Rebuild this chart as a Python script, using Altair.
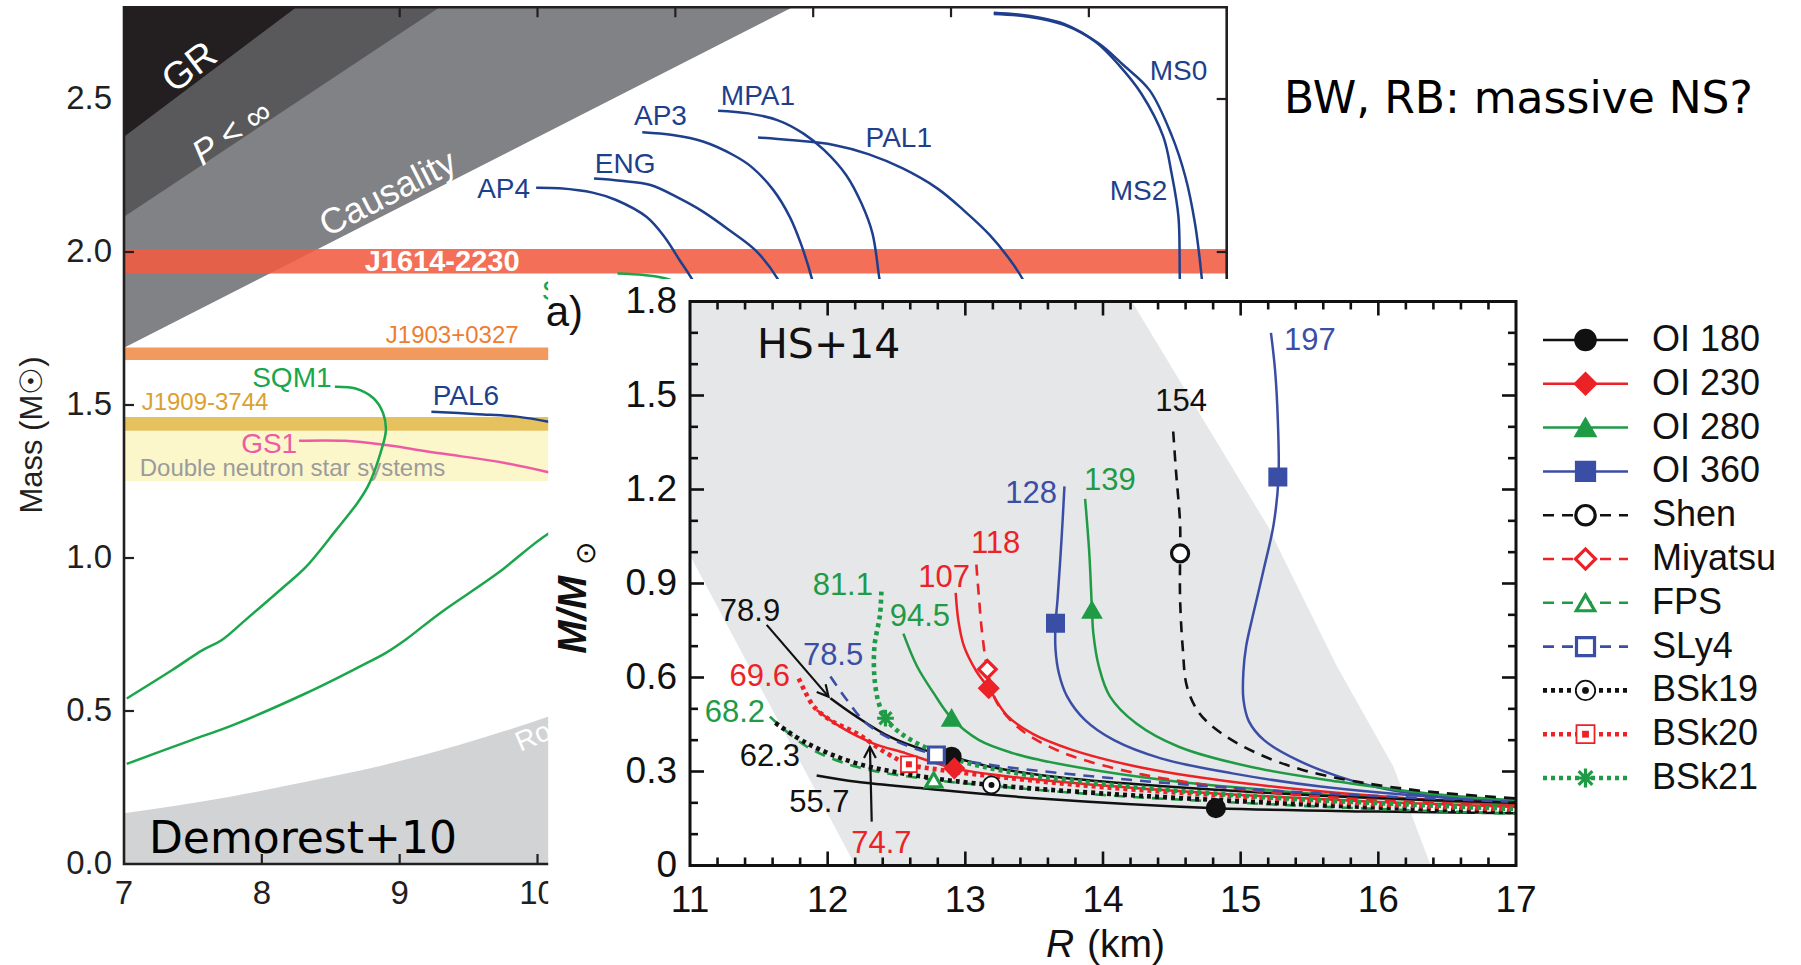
import altair as alt
import pandas as pd

FONT = "Liberation Sans"
HAND = "DejaVu Sans"

# ---------------------------------------------------------------------------
# Left figure (Demorest+10): EOS mass-radius curves and pulsar mass bands
# radius in km, mass in solar masses
# ---------------------------------------------------------------------------
AP4_R = [9.99, 10.16, 10.40, 10.57, 10.79, 10.92, 11.03, 11.12, 11.30]
AP4_M = [2.210, 2.208, 2.194, 2.170, 2.115, 2.050, 1.974, 1.912, 1.750]
ENG_R = [10.41, 10.60, 10.82, 11.03, 11.20, 11.39, 11.58, 11.74, 11.90]
ENG_M = [2.240, 2.233, 2.219, 2.175, 2.132, 2.072, 2.006, 1.914, 1.750]
AP3_R = [10.76, 10.98, 11.20, 11.42, 11.55, 11.71, 11.83, 11.91, 11.99, 12.05]
AP3_M = [2.391, 2.382, 2.361, 2.317, 2.279, 2.203, 2.115, 2.028, 1.914, 1.800]
MPA1_R = [11.31, 11.53, 11.74, 11.93, 12.08, 12.24, 12.35, 12.43, 12.48, 12.52]
MPA1_M = [2.462, 2.453, 2.431, 2.387, 2.333, 2.251, 2.159, 2.061, 1.914, 1.800]
PAL1_R = [11.60, 11.83, 12.15, 12.40, 12.65, 12.90, 13.09, 13.28, 13.41, 13.52, 13.62]
PAL1_M = [2.374, 2.366, 2.350, 2.320, 2.273, 2.208, 2.137, 2.056, 1.985, 1.911, 1.800]
MS0_R = [13.31, 13.56, 13.82, 14.07, 14.25, 14.44, 14.60, 14.70, 14.77, 14.82, 14.84]
MS0_M = [2.778, 2.769, 2.742, 2.682, 2.611, 2.529, 2.382, 2.246, 2.093, 1.911, 1.800]
MS2_R = [13.31, 13.56, 13.82, 14.05, 14.22, 14.38, 14.54, 14.60, 14.65, 14.66, 14.67]
MS2_M = [2.782, 2.772, 2.745, 2.686, 2.610, 2.518, 2.377, 2.257, 2.115, 1.911, 1.800]
PAL6_R = [9.23, 9.57, 9.85, 10.08, 10.50]
PAL6_M = [1.478, 1.470, 1.462, 1.445, 1.400]
GS1_R = [8.27, 8.60, 8.90, 9.29, 9.71, 10.08, 10.50]
GS1_M = [1.383, 1.383, 1.369, 1.342, 1.315, 1.280, 1.230]
SQM1_R = [8.53, 8.68, 8.81, 8.88, 8.90, 8.86, 8.78, 8.70, 8.54, 8.32, 8.16, 7.88, 7.71, 7.57, 7.35, 7.02]
SQM1_M = [1.560, 1.554, 1.522, 1.473, 1.418, 1.342, 1.244, 1.184, 1.092, 0.971, 0.906, 0.797, 0.732, 0.699, 0.634, 0.541]
SQM3_R = [10.58, 10.77, 10.95, 11.10, 11.20, 11.15, 10.90, 10.50, 10.08, 9.71, 9.29, 9.04, 8.90, 8.71, 8.32, 7.79, 7.49, 7.02]
SQM3_M = [1.930, 1.925, 1.911, 1.870, 1.700, 1.500, 1.300, 1.180, 1.080, 0.950, 0.819, 0.732, 0.690, 0.645, 0.558, 0.454, 0.405, 0.327]

# excluded regions (lower boundary of each wedge, up to the top of the frame)
GR_R = [7.0, 8.25]
GR_M = [2.377, 2.8]
PINF_R = [7.0, 9.29]
PINF_M = [2.115, 2.8]
CAUS_R = [7.0, 11.85]
CAUS_M = [1.687, 2.8]
ROT_R = [7.0, 7.77, 8.32, 8.88, 9.43, 10.09, 10.60]
ROT_M = [0.166, 0.220, 0.269, 0.323, 0.389, 0.484, 0.570]

# measured masses
PSR_NAMES = ["Double neutron star systems", "J1909-3744", "J1903+0327", "J1614-2230"]
PSR_LO = [1.252, 1.416, 1.647, 1.930]
PSR_HI = [1.416, 1.461, 1.688, 2.010]

A_XTICKS = [7, 8, 9, 10, 11, 12, 13, 14, 15]
A_XLABELS = [7, 8, 9, 10]
A_YTICKS = [0.0, 0.5, 1.0, 1.5, 2.0, 2.5]

# ---------------------------------------------------------------------------
# Right figure (HS+14): M-R curves, labelled by the slope parameter L
# ---------------------------------------------------------------------------
L197_R = [15.22, 15.25, 15.27, 15.275, 15.24, 15.17, 15.09, 15.04, 15.02, 15.02, 15.06, 15.17, 15.41, 15.72, 16.10, 16.62, 17.0]
L197_M = [1.70, 1.58, 1.42, 1.24, 1.09, 0.95, 0.80, 0.70, 0.62, 0.53, 0.46, 0.40, 0.337, 0.283, 0.240, 0.213, 0.203]
L128_R = [13.72, 13.70, 13.67, 13.655, 13.655, 13.68, 13.74, 13.87, 14.08, 14.42, 14.94, 15.58, 16.36, 17.0]
L128_M = [1.21, 1.05, 0.85, 0.77, 0.69, 0.613, 0.539, 0.464, 0.40, 0.342, 0.294, 0.252, 0.220, 0.204]
L139_R = [13.87, 13.90, 13.92, 13.93, 13.97, 14.05, 14.24, 14.55, 15.07, 15.72, 16.36, 17.0]
L139_M = [1.17, 1.00, 0.815, 0.74, 0.635, 0.54, 0.454, 0.379, 0.315, 0.267, 0.230, 0.208]
L154_R = [14.51, 14.53, 14.56, 14.56, 14.56, 14.58, 14.61, 14.70, 14.86, 15.12, 15.45, 15.85, 16.36, 17.0]
L154_M = [1.385, 1.26, 1.09, 0.996, 0.85, 0.69, 0.571, 0.486, 0.422, 0.358, 0.305, 0.267, 0.236, 0.214]
L118_R = [13.08, 13.10, 13.12, 13.16, 13.22, 13.35, 13.50, 13.77, 14.29, 15.07, 15.85, 17.0]
L118_M = [0.96, 0.85, 0.75, 0.626, 0.528, 0.454, 0.405, 0.350, 0.290, 0.240, 0.212, 0.190]
L107_R = [12.93, 12.95, 12.99, 13.08, 13.17, 13.30, 13.49, 13.77, 14.20, 14.80, 15.50, 16.20, 17.0]
L107_M = [0.87, 0.78, 0.70, 0.62, 0.566, 0.48, 0.42, 0.37, 0.32, 0.275, 0.240, 0.215, 0.197]
L945_R = [12.55, 12.65, 12.77, 12.90, 13.10, 13.35, 13.54, 14.0, 14.5, 15.0, 15.5, 16.0, 17.0]
L945_M = [0.74, 0.635, 0.55, 0.47, 0.40, 0.358, 0.337, 0.300, 0.270, 0.248, 0.230, 0.216, 0.193]
L811_R = [12.39, 12.38, 12.34, 12.34, 12.37, 12.42, 12.53, 12.70, 12.94, 13.30, 13.80, 14.50, 15.30, 16.20, 17.0]
L811_M = [0.874, 0.80, 0.70, 0.60, 0.52, 0.47, 0.422, 0.379, 0.337, 0.300, 0.270, 0.240, 0.215, 0.195, 0.180]
L789_R = [12.02, 12.21, 12.45, 12.70, 12.90, 13.18, 13.54, 14.0, 15.0, 16.0, 17.0]
L789_M = [0.534, 0.475, 0.411, 0.369, 0.347, 0.315, 0.289, 0.268, 0.237, 0.215, 0.200]
L785_R = [12.02, 12.14, 12.28, 12.48, 12.79, 13.20, 13.80, 14.50, 15.50, 17.0]
L785_M = [0.603, 0.528, 0.454, 0.400, 0.353, 0.320, 0.290, 0.262, 0.232, 0.203]
L696_R = [11.79, 11.83, 11.90, 12.02, 12.21, 12.43, 12.59, 12.82, 13.30, 14.0, 15.0, 16.0, 17.0]
L696_M = [0.597, 0.56, 0.507, 0.464, 0.422, 0.358, 0.323, 0.305, 0.280, 0.250, 0.220, 0.195, 0.178]
L747_R = [11.92, 12.09, 12.33, 12.57, 12.92, 13.30, 14.0, 15.0, 16.0, 17.0]
L747_M = [0.496, 0.443, 0.390, 0.358, 0.310, 0.285, 0.255, 0.225, 0.203, 0.187]
L682_R = [11.58, 11.85, 12.21, 12.77, 13.30, 14.0, 15.0, 16.0, 17.0]
L682_M = [0.475, 0.379, 0.315, 0.273, 0.250, 0.225, 0.200, 0.180, 0.165]
L623_R = [11.62, 11.85, 12.21, 12.70, 13.19, 14.0, 15.0, 16.0, 17.0]
L623_M = [0.455, 0.390, 0.326, 0.283, 0.257, 0.230, 0.205, 0.185, 0.170]
L557_R = [11.92, 12.21, 12.70, 13.54, 14.82, 16.0, 17.0]
L557_M = [0.287, 0.267, 0.246, 0.214, 0.183, 0.172, 0.167]

# shaded band of the right figure: left / right edge at each mass
BAND_M = [0.0, 0.315, 0.635, 0.99, 1.081, 1.443, 1.8]
BAND_LEFT = [12.20, 11.82, 11.43, 11.0, 11.0, 11.0, 11.0]
BAND_RIGHT = [16.38, 16.11, 15.70, 15.30, 15.20, 14.70, 14.21]

# one marker per curve
MARK_MODEL = ["OI 180", "OI 180", "OI 230", "OI 230", "OI 280", "OI 280", "OI 360", "OI 360",
              "Shen", "Miyatsu", "FPS", "SLy4", "BSk19", "BSk20", "BSk21"]
MARK_R = [12.90, 14.82, 13.17, 12.92, 13.92, 12.90, 15.27, 13.655, 14.56, 13.16, 12.77, 12.79, 13.19, 12.59, 12.42]
MARK_M = [0.347, 0.183, 0.566, 0.310, 0.815, 0.470, 1.240, 0.773, 0.996, 0.626, 0.273, 0.353, 0.257, 0.323, 0.470]

MODELS = ["OI 180", "OI 230", "OI 280", "OI 360", "Shen", "Miyatsu", "FPS", "SLy4", "BSk19", "BSk20", "BSk21"]

B_XTICKS = [11, 12, 13, 14, 15, 16, 17]
B_YTICKS = [0.0, 0.3, 0.6, 0.9, 1.2, 1.5, 1.8]

# ---------------------------------------------------------------------------
# styling
# ---------------------------------------------------------------------------
NAVY, SQM, PINK = "#1e3f8c", "#1aa64b", "#ee5ba2"
BLACK, RED, GREEN, BLUE = "#111111", "#ec2227", "#1f9a45", "#3b4ea6"
FRAME = "#231f20"
PSR_COLORS = ["#fcf5c4", "#e2ba48", "#f08b48", "#f15b40"]

ASTERISK = "M-1,0L1,0M0,-1L0,1M-0.72,-0.72L0.72,0.72M-0.72,0.72L0.72,-0.72"
ARROWHEAD = "M-0.5,0.95L0,0L0.5,0.95"

MODEL_COLOR = {"OI 180": BLACK, "OI 230": RED, "OI 280": GREEN, "OI 360": BLUE,
               "Shen": BLACK, "Miyatsu": RED, "FPS": GREEN, "SLy4": BLUE,
               "BSk19": BLACK, "BSk20": RED, "BSk21": GREEN}
MODEL_KIND = {"OI 180": "solid", "OI 230": "solid", "OI 280": "solid", "OI 360": "solid",
              "Shen": "dashed", "Miyatsu": "dashed", "FPS": "dashed", "SLy4": "dashed",
              "BSk19": "dotted", "BSk20": "dotted", "BSk21": "dotted"}
MODEL_SHAPE = {"OI 180": "circle", "OI 230": "diamond", "OI 280": "triangle-up", "OI 360": "square",
               "Shen": "circle", "Miyatsu": "diamond", "FPS": "triangle-up", "SLy4": "square",
               "BSk19": "circle", "BSk20": "square", "BSk21": ASTERISK}
MODEL_SIZE = {"circle": 290, "diamond": 310, "triangle-up": 260, "square": 250, ASTERISK: 280}
LINE_KIND = {"solid": dict(strokeWidth=2.5),
             "dashed": dict(strokeWidth=2.6, strokeDash=[11, 8]),
             "dotted": dict(strokeWidth=4.6, strokeDash=[4, 4])}

# pixel placement of the two figures on the canvas
SX_A = alt.Scale(domain=[7, 15], range=[124, 1226.7], zero=False, nice=False)
SY_A = alt.Scale(domain=[0, 2.8], range=[864, 7.2], zero=False, nice=False)
SX_B = alt.Scale(domain=[11, 17], range=[690, 1516], zero=False, nice=False)
SY_B = alt.Scale(domain=[0, 1.8], range=[865.5, 301.5], zero=False, nice=False)
SX_L = alt.Scale(domain=[0, 1], range=[1543, 1628], zero=False, nice=False)
SY_L = alt.Scale(domain=[0, 10], range=[340, 778], zero=False, nice=False)


def xy(sx, sy, x="x", y="y"):
    return dict(x=alt.X(f"{x}:Q", scale=sx, axis=None), y=alt.Y(f"{y}:Q", scale=sy, axis=None))


def texts(rows, sx, sy, **mark):
    df = pd.DataFrame(rows, columns=["x", "y", "t", "col"])
    mark.setdefault("font", FONT)
    return alt.Chart(df).mark_text(**mark).encode(
        **xy(sx, sy), text="t:N", color=alt.Color("col:N", scale=None))


def polylines(curves, sx, sy, **mark):
    recs = []
    for name, R, M, col in curves:
        for i, (r, m) in enumerate(zip(R, M)):
            recs.append(dict(curve=name, x=r, y=m, i=i, col=col))
    mark.setdefault("interpolate", "catmull-rom")
    return alt.Chart(pd.DataFrame(recs)).mark_line(**mark).encode(
        **xy(sx, sy), detail="curve:N", order="i:Q", color=alt.Color("col:N", scale=None))


def wedge(R, M, top, colour):
    df = pd.DataFrame({"x": R, "y": M, "top": [top] * len(R)})
    return alt.Chart(df).mark_area(color=colour).encode(**xy(SX_A, SY_A), y2=alt.Y2("top"))


def rules(df, sx, sy, colour, width):
    return alt.Chart(df).mark_rule(color=colour, strokeWidth=width).encode(
        **xy(sx, sy), x2=alt.X2("x2"), y2=alt.Y2("y2"))


def frame(x0, x1, y0, y1, sx, sy, colour, width):
    df = pd.DataFrame({"x": [x0], "x2": [x1], "y": [y0], "y2": [y1]})
    return alt.Chart(df).mark_rect(fillOpacity=0, stroke=colour, strokeWidth=width).encode(
        **xy(sx, sy), x2=alt.X2("x2"), y2=alt.Y2("y2"))


# ---------------------------------------------------------------------------
# left figure
# ---------------------------------------------------------------------------
A_LO, A_HI, A_TOP = 7, 15, 2.8
layers_a = [
    wedge(CAUS_R, CAUS_M, A_TOP, "#808285"),
    wedge(PINF_R, PINF_M, A_TOP, "#59595c"),
    wedge(GR_R, GR_M, A_TOP, "#231f20"),
    alt.Chart(pd.DataFrame({"x": ROT_R, "y": ROT_M, "base": [0.0] * len(ROT_R)}))
    .mark_area(color="#d1d3d4", interpolate="monotone").encode(**xy(SX_A, SY_A), y2=alt.Y2("base")),
    alt.Chart(pd.DataFrame({"name": PSR_NAMES, "y": PSR_LO, "y2": PSR_HI,
                            "x": [A_LO] * 4, "x2": [A_HI] * 4, "col": PSR_COLORS}))
    .mark_rect(opacity=0.88)
    .encode(**xy(SX_A, SY_A), x2=alt.X2("x2"), y2=alt.Y2("y2"), color=alt.Color("col:N", scale=None)),
]

# region names
layers_a += [
    texts([(7.479, 2.601, "GR", "white")], SX_A, SY_A, fontSize=38, angle=323, align="center", baseline="middle"),
    texts([(7.784, 2.389, "P < ∞", "white")], SX_A, SY_A, fontSize=35, angle=326, align="center",
          baseline="middle", fontStyle="italic"),
    texts([(8.916, 2.190, "Causality", "white")], SX_A, SY_A, fontSize=36, angle=333, align="center",
          baseline="middle"),
    texts([(9.874, 0.366, "Rotation", "white")], SX_A, SY_A, fontSize=28, angle=337, align="left",
          baseline="alphabetic"),
    texts([(9.308, 1.938, "J1614-2230", "white")], SX_A, SY_A, fontSize=29, fontWeight="bold",
          align="center", baseline="alphabetic"),
    texts([(9.863, 1.703, "J1903+0327", "#ee7d32")], SX_A, SY_A, fontSize=24, align="right",
          baseline="alphabetic"),
    texts([(7.128, 1.484, "J1909-3744", "#dba12f")], SX_A, SY_A, fontSize=24, align="left",
          baseline="alphabetic"),
    texts([(7.114, 1.268, "Double neutron star systems", "#9b9b9b")], SX_A, SY_A, fontSize=24,
          align="left", baseline="alphabetic"),
]

layers_a.append(polylines([
    ("AP4", AP4_R, AP4_M, NAVY), ("ENG", ENG_R, ENG_M, NAVY), ("AP3", AP3_R, AP3_M, NAVY),
    ("MPA1", MPA1_R, MPA1_M, NAVY), ("PAL1", PAL1_R, PAL1_M, NAVY), ("MS0", MS0_R, MS0_M, NAVY),
    ("MS2", MS2_R, MS2_M, NAVY), ("PAL6", PAL6_R, PAL6_M, NAVY), ("GS1", GS1_R, GS1_M, PINK),
    ("SQM1", SQM1_R, SQM1_M, SQM), ("SQM3", SQM3_R, SQM3_M, SQM),
], SX_A, SY_A, strokeWidth=2.5))

# curve names
layers_a += [
    texts([(9.946, 2.176, "AP4", NAVY)], SX_A, SY_A, fontSize=28, align="right", baseline="alphabetic"),
    texts([(10.416, 2.257, "ENG", NAVY), (10.70, 2.415, "AP3", NAVY), (11.33, 2.480, "MPA1", NAVY),
           (12.38, 2.344, "PAL1", NAVY), (9.24, 1.500, "PAL6", NAVY), (7.85, 1.342, "GS1", PINK),
           (7.93, 1.560, "SQM1", SQM), (10.03, 1.843, "SQM3", SQM)],
          SX_A, SY_A, fontSize=28, align="left", baseline="alphabetic"),
    texts([(14.65, 2.562, "MS0", NAVY), (14.36, 2.170, "MS2", NAVY)],
          SX_A, SY_A, fontSize=28, align="center", baseline="alphabetic"),
]

# frame, inward ticks and tick labels
tick_a = 10 / 137.8
tick_am = 10 / 306
layers_a += [
    frame(A_LO, A_HI, 0, A_TOP, SX_A, SY_A, FRAME, 2.6),
    rules(pd.DataFrame({"x": A_XTICKS[1:-1], "x2": A_XTICKS[1:-1],
                        "y": [0.0] * 7, "y2": [tick_am] * 7}), SX_A, SY_A, FRAME, 2.2),
    rules(pd.DataFrame({"x": A_XTICKS[1:-1], "x2": A_XTICKS[1:-1],
                        "y": [A_TOP] * 7, "y2": [A_TOP - tick_am] * 7}), SX_A, SY_A, FRAME, 2.2),
    rules(pd.DataFrame({"x": [A_LO] * 5, "x2": [A_LO + tick_a] * 5,
                        "y": A_YTICKS[1:], "y2": A_YTICKS[1:]}), SX_A, SY_A, FRAME, 2.2),
    rules(pd.DataFrame({"x": [A_HI] * 5, "x2": [A_HI - tick_a] * 5,
                        "y": A_YTICKS[1:], "y2": A_YTICKS[1:]}), SX_A, SY_A, FRAME, 2.2),
    texts([(A_LO, v, f"{v:.1f}", "#231f20") for v in A_YTICKS], SX_A, SY_A, fontSize=33,
          align="right", baseline="middle", dx=-12),
    texts([(v, 0.0, str(v), "#231f20") for v in A_XLABELS], SX_A, SY_A, fontSize=33,
          align="center", baseline="top", dy=14),
    texts([(6.34, 1.402, "Mass (M☉)", "#231f20")], SX_A, SY_A, fontSize=31, angle=270,
          align="center", baseline="middle"),
    texts([(7.181, 0.036, "Demorest+10", "black")], SX_A, SY_A, font=HAND, fontSize=44,
          align="left", baseline="alphabetic"),
    texts([(15.416, 2.454, "BW, RB: massive NS?", "black")], SX_A, SY_A, font=HAND, fontSize=44,
          align="left", baseline="alphabetic"),
]
panel_a = alt.layer(*layers_a)

# ---------------------------------------------------------------------------
# right figure
# ---------------------------------------------------------------------------
B_CURVES = [
    ("197", "OI 360", L197_R, L197_M), ("128", "OI 360", L128_R, L128_M),
    ("139", "OI 280", L139_R, L139_M), ("94.5", "OI 280", L945_R, L945_M),
    ("107", "OI 230", L107_R, L107_M), ("74.7", "OI 230", L747_R, L747_M),
    ("78.9", "OI 180", L789_R, L789_M), ("55.7", "OI 180", L557_R, L557_M),
    ("154", "Shen", L154_R, L154_M), ("118", "Miyatsu", L118_R, L118_M),
    ("68.2", "FPS", L682_R, L682_M), ("78.5", "SLy4", L785_R, L785_M),
    ("62.3", "BSk19", L623_R, L623_M), ("69.6", "BSk20", L696_R, L696_M),
    ("81.1", "BSk21", L811_R, L811_M),
]

layers_b = [
    # white backdrop of the figure, hiding what lies beneath it
    alt.Chart(pd.DataFrame({"x": [9.97], "x2": [20.0], "y": [-0.4], "y2": [1.872]}))
    .mark_rect(color="white").encode(**xy(SX_B, SY_B), x2=alt.X2("x2"), y2=alt.Y2("y2")),
    alt.Chart(pd.DataFrame({"y": BAND_M, "x": BAND_LEFT, "x2": BAND_RIGHT}))
    .mark_area(orient="horizontal", color="#e6e7e8").encode(**xy(SX_B, SY_B), x2=alt.X2("x2")),
]

for kind in ["solid", "dashed", "dotted"]:
    layers_b.append(polylines(
        [(lab, R, M, MODEL_COLOR[m]) for lab, m, R, M in B_CURVES if MODEL_KIND[m] == kind],
        SX_B, SY_B, **LINE_KIND[kind]))


def marker_table(models, xs, ys, scale):
    rows = []
    for m, x, y in zip(models, xs, ys):
        shp = MODEL_SHAPE[m]
        filled = MODEL_KIND[m] == "solid"
        rows.append(dict(x=x, y=y, shape=shp, size=MODEL_SIZE[shp] * scale,
                         fill=MODEL_COLOR[m] if filled else "white", stroke=MODEL_COLOR[m],
                         sw=1.8 if m in ("BSk19", "BSk20") else 3.2))
    return pd.DataFrame(rows)


def marker_layers(models, xs, ys, sx, sy, scale=1.0):
    df = marker_table(models, xs, ys, scale)
    outer = alt.Chart(df).mark_point(opacity=1, filled=False).encode(
        **xy(sx, sy),
        shape=alt.Shape("shape:N", scale=None), size=alt.Size("size:Q", scale=None),
        fill=alt.Fill("fill:N", scale=None), stroke=alt.Stroke("stroke:N", scale=None),
        strokeWidth=alt.StrokeWidth("sw:Q", scale=None))
    inner_rows = [dict(x=x, y=y, shape="circle" if m == "BSk19" else "square", col=MODEL_COLOR[m])
                  for m, x, y in zip(models, xs, ys) if m in ("BSk19", "BSk20")]
    inner = alt.Chart(pd.DataFrame(inner_rows)).mark_point(opacity=1, filled=True, size=36 * scale).encode(
        **xy(sx, sy), shape=alt.Shape("shape:N", scale=None), color=alt.Color("col:N", scale=None))
    return [outer, inner]


layers_b += marker_layers(MARK_MODEL, MARK_R, MARK_M, SX_B, SY_B)

# arrows pointing labels to their curves
arrows = pd.DataFrame({"x": [11.557, 12.320], "y": [0.768, 0.140],
                       "x2": [12.006, 12.307], "y2": [0.539, 0.379], "ang": [139.3, 0.0]})
layers_b += [
    alt.Chart(arrows).mark_rule(color=BLACK, strokeWidth=2.2).encode(
        **xy(SX_B, SY_B), x2=alt.X2("x2"), y2=alt.Y2("y2")),
    alt.Chart(arrows).mark_point(shape=ARROWHEAD, size=560, color=BLACK, strokeWidth=2.2, opacity=1,
                                 filled=False).encode(
        **xy(SX_B, SY_B, "x2", "y2"), angle=alt.Angle("ang:Q", scale=None)),
]

lab_left = [("197", 15.315, 1.645, BLUE), ("139", 13.862, 1.199, GREEN), ("78.5", 11.82, 0.640, BLUE)]
lab_right = [("128", 13.666, 1.157, BLUE), ("107", 13.034, 0.889, RED), ("69.6", 11.726, 0.573, RED),
             ("68.2", 11.545, 0.458, GREEN)]
lab_center = [("154", 14.567, 1.450, BLACK), ("118", 13.22, 0.997, RED), ("94.5", 12.67, 0.764, GREEN),
              ("81.1", 12.11, 0.863, GREEN), ("78.9", 11.436, 0.781, BLACK), ("62.3", 11.58, 0.318, BLACK),
              ("55.7", 11.94, 0.171, BLACK), ("74.7", 12.39, 0.040, RED)]
for rows, al in [(lab_left, "left"), (lab_right, "right"), (lab_center, "center")]:
    layers_b.append(texts([(x, y, t, c) for t, x, y, c in rows], SX_B, SY_B, fontSize=31,
                          align=al, baseline="alphabetic"))

# frame and inward ticks (major / minor)
B_LO, B_HI, B_TOP = 11, 17, 1.8
x_minor = [round(11 + 0.2 * k, 1) for k in range(1, 30) if k % 5]
y_minor = [round(0.1 * k, 1) for k in range(1, 18) if k % 3]
px_x, px_y = 137.67, 313.3


def edge_ticks(vals, length):
    n = len(vals)
    return [
        pd.DataFrame({"x": vals, "x2": vals, "y": [0.0] * n, "y2": [length / px_y] * n}),
        pd.DataFrame({"x": vals, "x2": vals, "y": [B_TOP] * n, "y2": [B_TOP - length / px_y] * n}),
    ]


def side_ticks(vals, length):
    n = len(vals)
    return [
        pd.DataFrame({"x": [B_LO] * n, "x2": [B_LO + length / px_x] * n, "y": vals, "y2": vals}),
        pd.DataFrame({"x": [B_HI] * n, "x2": [B_HI - length / px_x] * n, "y": vals, "y2": vals}),
    ]


for df in edge_ticks(B_XTICKS[1:-1], 14) + edge_ticks(x_minor, 8) + side_ticks(B_YTICKS[1:-1], 14) + side_ticks(y_minor, 8):
    layers_b.append(rules(df, SX_B, SY_B, BLACK, 2.6))

layers_b += [
    frame(B_LO, B_HI, 0, B_TOP, SX_B, SY_B, BLACK, 3),
    texts([(B_LO, v, "0" if v == 0 else f"{v:.1f}", BLACK) for v in B_YTICKS], SX_B, SY_B, fontSize=37,
          align="right", baseline="middle", dx=-13),
    texts([(v, 0.0, str(v), BLACK) for v in B_XTICKS], SX_B, SY_B, fontSize=37,
          align="center", baseline="top", dy=17),
    texts([(13.586, -0.292, "R", BLACK)], SX_B, SY_B, fontSize=39, fontStyle="italic", align="left",
          baseline="alphabetic"),
    texts([(13.884, -0.292, "(km)", BLACK)], SX_B, SY_B, fontSize=39, align="left", baseline="alphabetic"),
    texts([(10.157, 0.800, "M/M", BLACK)], SX_B, SY_B, fontSize=40, fontStyle="italic", fontWeight="bold",
          angle=270, align="center", baseline="middle"),
    texts([(10.25, 0.995, "⊙", BLACK)], SX_B, SY_B, fontSize=28, angle=270, align="center",
          baseline="middle"),
    texts([(10.223, 1.722, "a)", BLACK)], SX_B, SY_B, fontSize=42, align="right", baseline="alphabetic"),
    texts([(11.487, 1.620, "HS+14", BLACK)], SX_B, SY_B, font=HAND, fontSize=41, align="left",
          baseline="alphabetic"),
]
panel_b = alt.layer(*layers_b)

# ---------------------------------------------------------------------------
# legend of the right figure
# ---------------------------------------------------------------------------
LEG_ROW = list(range(len(MODELS)))
layers_l = []
for kind in ["solid", "dashed", "dotted"]:
    sel = [(m, r) for m, r in zip(MODELS, LEG_ROW) if MODEL_KIND[m] == kind]
    df = pd.DataFrame({"x": [0.0] * len(sel), "x2": [1.0] * len(sel), "y": [r for _, r in sel],
                       "col": [MODEL_COLOR[m] for m, _ in sel]})
    layers_l.append(alt.Chart(df).mark_rule(**LINE_KIND[kind]).encode(
        **xy(SX_L, SY_L), x2=alt.X2("x2"), color=alt.Color("col:N", scale=None)))
layers_l += marker_layers(MODELS, [0.5] * len(MODELS), LEG_ROW, SX_L, SY_L, scale=1.3)
layers_l.append(texts([(1.282, r, m, BLACK) for m, r in zip(MODELS, LEG_ROW)], SX_L, SY_L,
                      fontSize=36, align="left", baseline="middle"))
legend = alt.layer(*layers_l)

chart = (
    alt.layer(panel_a, panel_b, legend)
    .resolve_scale(x="independent", y="independent")
    .properties(width=1801, height=965, padding=0, background="white",
                autosize=alt.AutoSizeParams(type="none"))
    .configure_view(strokeWidth=0)
)

chart.save("out.html", embed_options={"renderer": "svg", "actions": False})
